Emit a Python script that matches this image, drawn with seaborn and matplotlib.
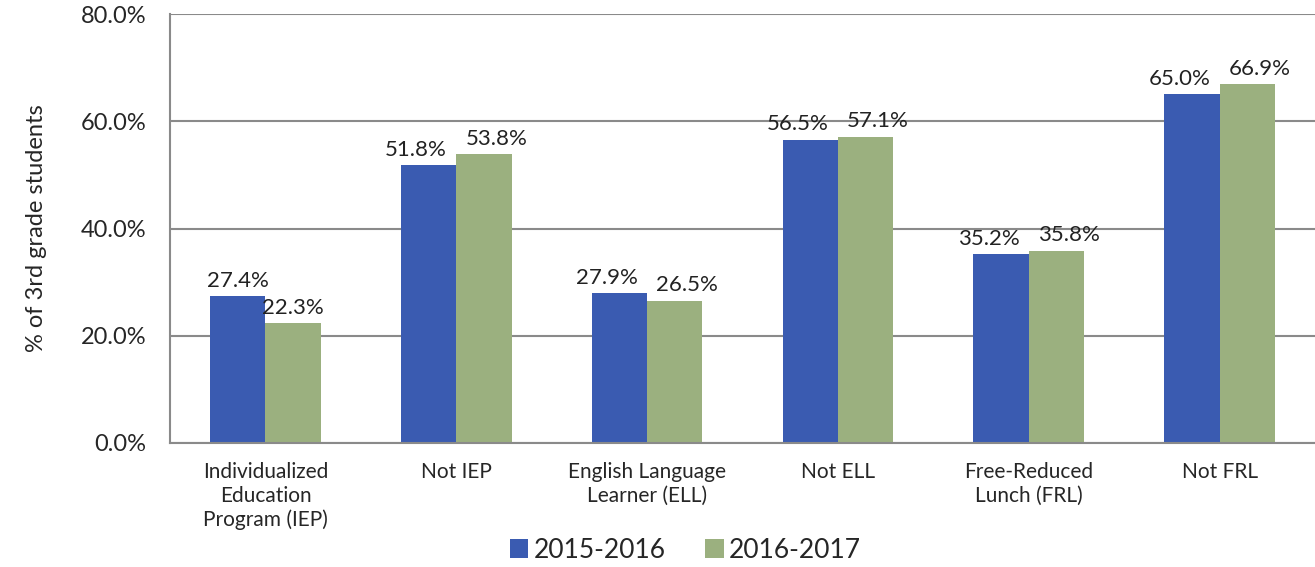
import matplotlib
matplotlib.use("Agg")
import matplotlib.pyplot as plt
import seaborn as sns
import numpy as np
import pandas as pd

# data
categories = ['Individualized\nEducation\nProgram (IEP)', 'Not IEP',
              'English Language\nLearner (ELL)', 'Not ELL',
              'Free-Reduced\nLunch (FRL)', 'Not FRL']
years = ['2015-2016', '2016-2017']
vals_2015 = [27.4, 51.8, 27.9, 56.5, 35.2, 65.0]
vals_2016 = [22.3, 53.8, 26.5, 57.1, 35.8, 66.9]
colors = ['#3A5BB1', '#9BB07F']

df = pd.DataFrame({
    'category': categories * 2,
    'year': [years[0]] * len(categories) + [years[1]] * len(categories),
    'value': vals_2015 + vals_2016,
})

sns.set_style('white')
plt.rcParams['font.family'] = ['Lato', 'DejaVu Sans']

fig = plt.figure(figsize=(13.15, 5.67), dpi=100)
ax = fig.add_axes([0.1293, 0.2187, 0.8707, 0.7566])

sns.barplot(data=df, x='category', y='value', hue='year', palette=colors,
            width=0.58, saturation=1, ax=ax, edgecolor='none', errorbar=None)

# value labels; nudge apart when the two bars are close in height
close = [abs(a - b) < 4 for a, b in zip(vals_2015, vals_2016)]
for k, cont in enumerate(ax.containers):
    sign = -1 if k == 0 else 1
    for i, bar in enumerate(cont):
        v = bar.get_height()
        dx = sign * 9 if close[i] else 0
        ax.annotate(f'{v:.1f}%', (bar.get_x() + bar.get_width() / 2, v),
                    xytext=(dx, 4), textcoords='offset points',
                    ha='center', va='bottom', fontsize=16, color='#222222')

ax.set_ylim(0, 80)
ax.set_yticks([0, 20, 40, 60, 80])
ax.set_yticklabels([f'{t:.1f}%' for t in [0, 20, 40, 60, 80]], fontsize=17)
ax.yaxis.grid(True, color='#8a8a8a', linewidth=1.5)
ax.set_axisbelow(True)
ax.set_xlim(-0.5, 5.5)

ax.tick_params(axis='x', which='major', length=0, labelsize=15, pad=14)
ax.set_xticks(np.arange(-0.5, 6.0, 1.0), minor=True)
ax.tick_params(axis='x', which='minor', length=7, width=1.2, color='#8a8a8a', direction='out')
ax.tick_params(axis='y', length=0, pad=17)

for s in ['top', 'right']:
    ax.spines[s].set_visible(False)
for s in ['left', 'bottom']:
    ax.spines[s].set_color('#8a8a8a')
    ax.spines[s].set_linewidth(1.5)

ax.set_xlabel('')
ax.set_ylabel('% of 3rd grade students', fontsize=17, labelpad=24)

ax.legend(loc='lower center', bbox_to_anchor=(0.45, -0.335), ncol=2, frameon=False,
          fontsize=19, handlelength=0.7, handleheight=0.7, handletextpad=0.2,
          columnspacing=1.5)

fig.savefig('out.png', dpi=100)
